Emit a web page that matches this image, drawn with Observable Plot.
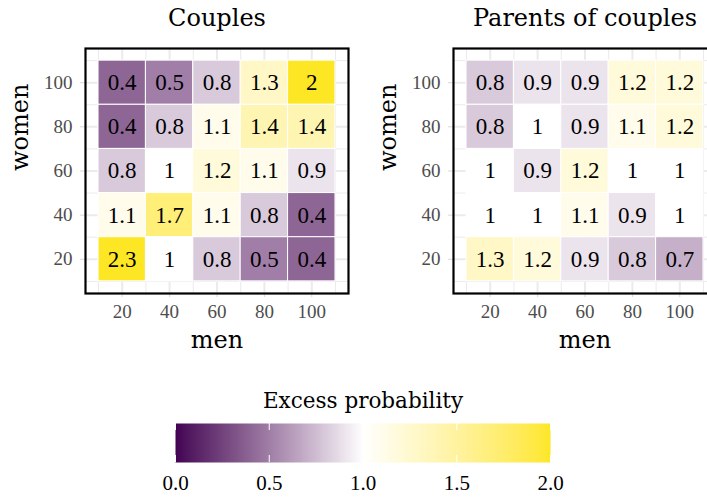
<!DOCTYPE html>
<html>
<head>
<meta charset="utf-8">
<script src="https://cdn.jsdelivr.net/npm/d3@7"></script>
<script src="https://cdn.jsdelivr.net/npm/@observablehq/plot@0.6"></script>
<style>
  html, body { margin: 0; padding: 0; background: #fff; width: 707px; height: 499px; overflow: hidden; }
  #wrap { position: relative; width: 707px; height: 499px; overflow: hidden; }
  #wrap > div, #wrap > svg { position: absolute; }
</style>
</head>
<body>
<div id="wrap"></div>
<script>
// ---- data ----
const men = [20, 40, 60, 80, 100];
const women = [100, 80, 60, 40, 20];
const couples = [
  [0.4, 0.5, 0.8, 1.3, 2],
  [0.4, 0.8, 1.1, 1.4, 1.4],
  [0.8, 1, 1.2, 1.1, 0.9],
  [1.1, 1.7, 1.1, 0.8, 0.4],
  [2.3, 1, 0.8, 0.5, 0.4]
];
const parents = [
  [0.8, 0.9, 0.9, 1.2, 1.2],
  [0.8, 1, 0.9, 1.1, 1.2],
  [1, 0.9, 1.2, 1, 1],
  [1, 1, 1.1, 0.9, 1],
  [1.3, 1.2, 0.9, 0.8, 0.7]
];
const panelTitles = ["Couples", "Parents of couples"];
const axisTicks = [20, 40, 60, 80, 100];
const minorTicks = [10, 30, 50, 70, 90, 110];
const legendTicks = [0, 0.5, 1, 1.5, 2];
const legendTitle = "Excess probability";
const xLabel = "men";
const yLabel = "women";

const titleFont = "DejaVu Serif";
const numFont = "Liberation Serif";

const colorScale = {
  type: "linear",
  domain: [0, 1, 2],
  range: ["#440154", "#ffffff", "#FDE725"],
  interpolate: "lab",
  clamp: true
};

function table(matrix) {
  const out = [];
  women.forEach((w, i) => men.forEach((m, j) => out.push({men: m, women: w, value: matrix[i][j]})));
  return out;
}

function panel(matrix, title) {
  const data = table(matrix);
  return Plot.plot({
    width: 370,
    height: 360,
    marginLeft: 85,
    marginRight: 22,
    marginTop: 48,
    marginBottom: 67,
    style: {fontFamily: titleFont, background: "white"},
    x: {domain: [4.5, 115.5]},
    y: {domain: [4.5, 115.5]},
    color: colorScale,
    marks: [
      Plot.gridX(minorTicks, {stroke: "#EBEBEB", strokeOpacity: 1, strokeWidth: 1}),
      Plot.gridY(minorTicks, {stroke: "#EBEBEB", strokeOpacity: 1, strokeWidth: 1}),
      Plot.gridX(axisTicks, {stroke: "#EBEBEB", strokeOpacity: 1, strokeWidth: 2}),
      Plot.gridY(axisTicks, {stroke: "#EBEBEB", strokeOpacity: 1, strokeWidth: 2}),
      Plot.rect(data, {
        x1: d => d.men - 10, x2: d => d.men + 10,
        y1: d => d.women - 10, y2: d => d.women + 10,
        fill: "value", stroke: "white", strokeWidth: 1
      }),
      Plot.text(data, {
        x: "men", y: "women", text: d => String(d.value),
        fill: "black", fontSize: 23, fontFamily: numFont
      }),
      Plot.axisX(axisTicks, {
        anchor: "bottom", tickSize: 4, tickPadding: 7, stroke: "#D9D9D9",
        fill: "#4D4D4D", fontSize: 19, fontFamily: numFont, label: null
      }),
      Plot.axisY(axisTicks, {
        anchor: "left", tickSize: 5, tickPadding: 8, stroke: "#D9D9D9",
        fill: "#4D4D4D", fontSize: 19, fontFamily: numFont, label: null
      }),
      Plot.frame({stroke: "black", strokeWidth: 2.2}),
      Plot.text([title], {frameAnchor: "top", dy: -30, text: d => d, fontSize: 24, fill: "black", lineAnchor: "middle"}),
      Plot.text([xLabel], {frameAnchor: "bottom", dy: 47, text: d => d, fontSize: 24, fill: "black", lineAnchor: "middle"}),
      Plot.text([yLabel], {frameAnchor: "left", dx: -65, rotate: -90, text: d => d, fontSize: 24, fill: "black", lineAnchor: "middle"})
    ]
  });
}

const wrap = document.getElementById("wrap");
const p1 = panel(couples, panelTitles[0]);
p1.style.left = "0px"; p1.style.top = "0px";
wrap.appendChild(p1);
const p2 = panel(parents, panelTitles[1]);
p2.style.left = "368px"; p2.style.top = "0px";
wrap.appendChild(p2);

const legend = Plot.plot({
  width: 707,
  height: 119,
  marginLeft: 175,
  marginRight: 157,
  marginTop: 43,
  marginBottom: 37,
  style: {fontFamily: titleFont, background: "transparent"},
  x: {domain: [0, 2]},
  y: {domain: [0, 1], axis: null},
  color: colorScale,
  marks: [
    Plot.raster({x1: 0, x2: 2, y1: 0, y2: 1, width: 375, height: 1, fill: (x, y) => x, imageRendering: "auto"}),
    Plot.ruleX(legendTicks, {y1: 0, y2: 0.18, stroke: "white", strokeWidth: 1}),
    Plot.ruleX(legendTicks, {y1: 0.82, y2: 1, stroke: "white", strokeWidth: 1}),
    Plot.axisX(legendTicks, {
      anchor: "bottom", tickSize: 0, tickPadding: 13, tickFormat: d => d.toFixed(1),
      fill: "black", fontSize: 21, fontFamily: numFont, label: null
    }),
    Plot.text([legendTitle], {frameAnchor: "top", dy: -22, text: d => d, fontSize: 21.5, fill: "black", lineAnchor: "middle"})
  ]
});
legend.style.left = "0px"; legend.style.top = "380px";
wrap.appendChild(legend);
</script>
</body>
</html>
